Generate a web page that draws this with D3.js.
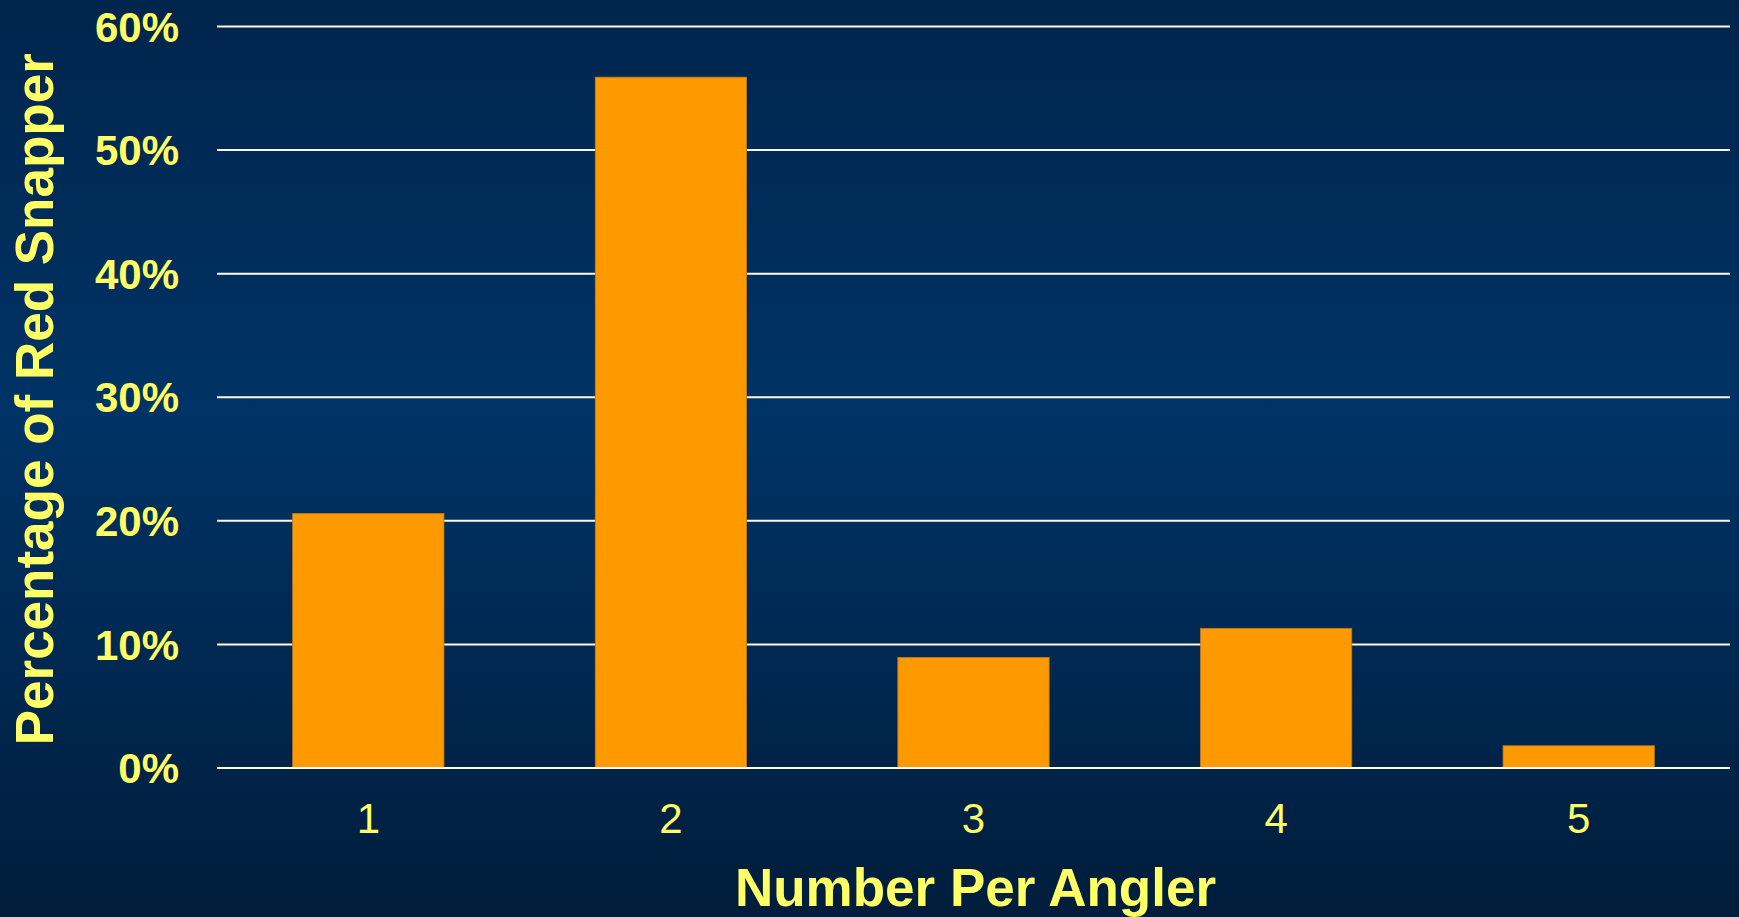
<!DOCTYPE html>
<html>
<head>
<meta charset="utf-8">
<script src="https://cdn.jsdelivr.net/npm/d3@7"></script>
<style>
  html, body { margin: 0; padding: 0; overflow: hidden; }
  svg { display: block; }
</style>
</head>
<body>
<script>
const categories = ["1", "2", "3", "4", "5"];
const values = [0.206, 0.559, 0.0895, 0.113, 0.018];
const yTicks = [0, 0.1, 0.2, 0.3, 0.4, 0.5, 0.6];
const xTitle = "Number Per Angler";
const yTitle = "Percentage of Red Snapper";

const W = 1739, H = 917;
const margin = { left: 217, right: 9, top: 26.5, bottom: 149 };

const svg = d3.select("body").append("svg").attr("width", W).attr("height", H);

const defs = svg.append("defs");
const grad = defs.append("linearGradient").attr("id", "bg").attr("x1", 0).attr("y1", 0).attr("x2", 0).attr("y2", 1);
grad.append("stop").attr("offset", "0%").attr("stop-color", "#00254c");
grad.append("stop").attr("offset", "45%").attr("stop-color", "#003366");
grad.append("stop").attr("offset", "100%").attr("stop-color", "#001d3b");
svg.append("rect").attr("width", W).attr("height", H).attr("fill", "url(#bg)");

const x = d3.scaleBand().domain(categories)
  .range([margin.left, W - margin.right])
  .paddingInner(0.5).paddingOuter(0.25);
const y = d3.scaleLinear().domain([0, 0.6]).range([H - margin.bottom, margin.top]);

const yellow = "#ffff66";
const gridColor = "#fffbe8";

// gridlines
svg.append("g").selectAll("line").data(yTicks.filter(d => d > 0)).join("line")
  .attr("x1", margin.left).attr("x2", W - margin.right)
  .attr("y1", d => y(d)).attr("y2", d => y(d))
  .attr("stroke", gridColor).attr("stroke-width", 2);

// bars
svg.append("g").selectAll("rect").data(values).join("rect")
  .attr("x", (d, i) => x(categories[i]))
  .attr("width", x.bandwidth())
  .attr("y", d => y(d))
  .attr("height", d => y(0) - y(d))
  .attr("fill", "#ff9900")
  .attr("stroke", "#b87a2a").attr("stroke-width", 0.8);

// baseline
svg.append("line")
  .attr("x1", margin.left).attr("x2", W - margin.right)
  .attr("y1", y(0)).attr("y2", y(0))
  .attr("stroke", gridColor).attr("stroke-width", 2);

// y axis labels
const yAxis = d3.axisLeft(y).tickValues(yTicks).tickFormat(d3.format(".0%")).tickSize(0).tickPadding(0);
const gy = svg.append("g").attr("transform", `translate(${margin.left - 38},0)`).call(yAxis);
gy.select(".domain").remove();
gy.selectAll("text")
  .attr("fill", yellow)
  .attr("font-family", "Liberation Sans, Arial, sans-serif")
  .attr("font-weight", "bold")
  .attr("font-size", 42)
  .attr("dy", "0.35em");

// x axis labels
const xAxis = d3.axisBottom(x).tickSize(0).tickPadding(0);
const gx = svg.append("g").attr("transform", `translate(0,${y(0)})`).call(xAxis);
gx.select(".domain").remove();
gx.selectAll("text")
  .attr("fill", yellow)
  .attr("font-family", "Liberation Sans, Arial, sans-serif")
  .attr("font-size", 42)
  .attr("dy", null)
  .attr("y", 65);

// titles
svg.append("text")
  .attr("x", (margin.left + W - margin.right) / 2 + 2)
  .attr("y", 906)
  .attr("text-anchor", "middle")
  .attr("fill", yellow)
  .attr("font-family", "Liberation Sans, Arial, sans-serif")
  .attr("font-weight", "bold")
  .attr("font-size", 53)
  .text(xTitle);

svg.append("text")
  .attr("transform", `translate(53,${(y(0) + y(0.6)) / 2 + 2}) rotate(-90)`)
  .attr("text-anchor", "middle")
  .attr("fill", yellow)
  .attr("font-family", "Liberation Sans, Arial, sans-serif")
  .attr("font-weight", "bold")
  .attr("font-size", 53)
  .text(yTitle);
</script>
</body>
</html>
